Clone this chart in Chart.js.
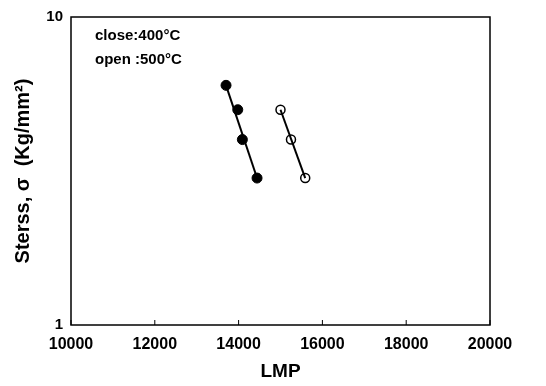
<!DOCTYPE html>
<html>
<head>
<meta charset="utf-8">
<script src="https://cdn.jsdelivr.net/npm/chart.js@4/dist/chart.umd.min.js"></script>
<style>
  html, body { margin: 0; padding: 0; background: #fff; }
  #wrap { width: 546px; height: 386px; position: relative; }
</style>
</head>
<body>
<div id="wrap"><canvas id="chart"></canvas></div>
<script>
// values
const closeLMP = [13700, 13980, 14090, 14440];
const closeStress = [6.0, 5.0, 4.0, 3.0];
const openLMP = [15000, 15250, 15590];
const openStress = [5.0, 4.0, 3.0];

// straight fit lines, end to end
const closeFitLMP = [13700, 14440];
const closeFitStress = [6.0, 3.0];
const openFitLMP = [15000, 15590];
const openFitStress = [5.0, 3.0];

const xTicks = [10000, 12000, 14000, 16000, 18000, 20000];
const yTickLabels = [1, 10];
const notes = ["close:400°C", "open :500°C"];

const FONT = "'Liberation Sans', Arial, Helvetica, sans-serif";

const toPoints = (xs, ys) => xs.map((x, i) => ({ x: x, y: ys[i] }));

// box round the plot and inward tick marks on the bottom axis
const framePlugin = {
  id: "frame",
  afterDatasetsDraw(chart) {
    const { ctx, chartArea: a, scales } = chart;
    ctx.save();
    ctx.strokeStyle = "#000";
    ctx.lineWidth = 1.5;
    ctx.strokeRect(a.left, a.top, a.right - a.left, a.bottom - a.top);
    ctx.lineWidth = 1;
    xTicks.forEach((v) => {
      const px = scales.x.getPixelForValue(v);
      ctx.beginPath();
      ctx.moveTo(px, a.bottom);
      ctx.lineTo(px, a.bottom - 5);
      ctx.stroke();
    });
    ctx.fillStyle = "#000";
    ctx.font = "bold 15px " + FONT;
    ctx.textBaseline = "middle";
    ctx.fillText(notes[0], a.left + 24, a.top + 19);
    ctx.fillText(notes[1], a.left + 24, a.top + 43);
    ctx.restore();
  },
};

new Chart(document.getElementById("chart"), {
  type: "scatter",
  data: {
    datasets: [
      {
        data: toPoints(closeFitLMP, closeFitStress),
        showLine: true,
        borderColor: "#000",
        borderWidth: 2,
        pointRadius: 0,
      },
      {
        data: toPoints(openFitLMP, openFitStress),
        showLine: true,
        borderColor: "#000",
        borderWidth: 2,
        pointRadius: 0,
      },
      {
        data: toPoints(closeLMP, closeStress),
        showLine: false,
        pointRadius: 5,
        pointBackgroundColor: "#000",
        pointBorderColor: "#000",
        pointBorderWidth: 1,
      },
      {
        data: toPoints(openLMP, openStress),
        showLine: false,
        pointRadius: 4.5,
        pointBackgroundColor: "#fff",
        pointBorderColor: "#000",
        pointBorderWidth: 1.5,
      },
    ],
  },
  options: {
    responsive: true,
    maintainAspectRatio: false,
    animation: false,
    layout: { padding: { left: 0, right: 56, top: 14, bottom: 0 } },
    plugins: {
      legend: { display: false },
      tooltip: { enabled: false },
    },
    scales: {
      x: {
        type: "linear",
        min: 10000,
        max: 20000,
        afterBuildTicks: (scale) => {
          scale.ticks = xTicks.map((v) => ({ value: v }));
        },
        afterFit: (scale) => {
          scale.height = 61;
        },
        grid: { display: false, drawTicks: false },
        border: { display: false },
        ticks: {
          color: "#000",
          padding: 10,
          maxRotation: 0,
          font: { family: FONT, size: 16, weight: "bold" },
          callback: (v) => String(v),
        },
        title: {
          display: true,
          text: "LMP",
          color: "#000",
          padding: { top: 0, bottom: 3 },
          font: { family: FONT, size: 19, weight: "bold" },
        },
      },
      y: {
        type: "logarithmic",
        min: 1,
        max: 10,
        afterFit: (scale) => {
          scale.width = 71;
        },
        grid: { display: false, drawTicks: false },
        border: { display: false },
        ticks: {
          color: "#000",
          padding: 8,
          autoSkip: false,
          font: { family: FONT, size: 15, weight: "bold" },
          callback: (v) => (yTickLabels.includes(v) ? String(v) : ""),
        },
        title: {
          display: true,
          text: "Sterss, σ  (Kg/mm²)",
          color: "#000",
          padding: { top: 11, bottom: 0 },
          font: { family: FONT, size: 20, weight: "bold" },
        },
      },
    },
  },
  plugins: [framePlugin],
});
</script>
</body>
</html>
